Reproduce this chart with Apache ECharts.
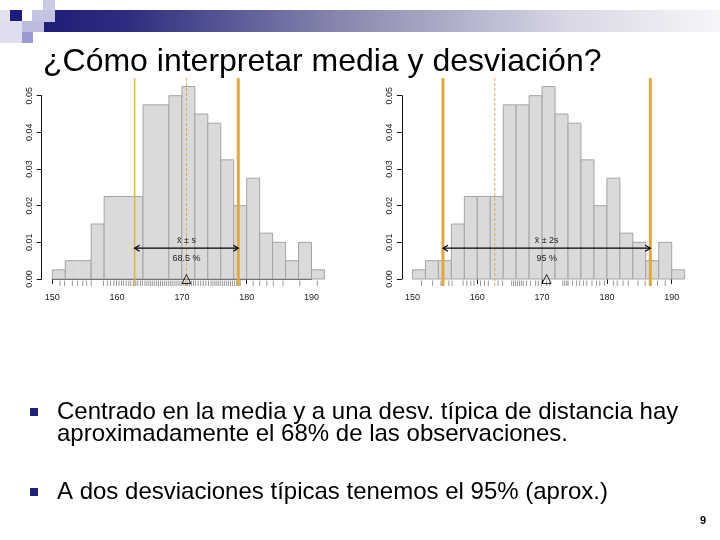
<!DOCTYPE html>
<html>
<head>
<meta charset="utf-8">
<script src="https://cdn.jsdelivr.net/npm/echarts@6/dist/echarts.min.js"></script>
<style>html,body{margin:0;padding:0;background:#fff}#c{width:720px;height:540px}</style>
</head>
<body>
<div id="c"></div>
<script>
// ---------- data ----------
const binStarts = [150,152,154,156,158,160,162,164,166,168,170,172,174,176,178,180,182,184,186,188,190];
const binWidth = 2;
const densityLeft  = [0.0025,0.005,0.005,0.015,0.0225,0.0225,0.0225,0.0475,0.0475,0.05,0.0525,0.045,0.0425,0.0325,0.02,0.0275,0.0125,0.01,0.005,0.01,0.0025];
const densityRight = [0.0025,0.005,0.005,0.015,0.0225,0.0225,0.0225,0.0475,0.0475,0.05,0.0525,0.045,0.0425,0.0325,0.02,0.0275,0.0125,0.01,0.005,0.01,0.0025];
const rugLeft = [151.2,151.9,153.1,153.9,154.7,155.3,156.0,157.9,158.5,159.0,159.5,159.9,160.3,160.7,161.0,161.4,161.8,162.1,162.5,162.9,163.2,163.6,163.9,164.3,164.6,164.9,165.2,165.5,165.8,166.1,166.4,166.7,167.0,167.3,167.6,167.9,168.2,168.5,168.8,169.1,169.4,169.7,170.0,170.3,170.6,170.9,171.2,171.5,171.8,172.1,172.5,172.9,173.3,173.7,174.1,174.5,174.8,175.1,175.4,175.7,176.0,176.3,176.6,176.9,177.2,177.5,177.8,178.1,178.4,178.7,179.0,181.0,182.0,183.1,184.1,185.6,188.2,190.9];
const rugRight = [151.4,153.1,154.4,155.6,156.1,157.8,158.4,159.0,159.5,160.5,161.1,161.7,163.2,163.9,165.3,165.6,165.9,166.2,166.5,166.8,167.1,167.6,168.2,169.0,169.4,169.9,170.7,171.2,173.2,173.5,173.8,174.0,174.7,175.3,175.8,176.4,176.9,177.7,178.4,178.9,179.6,181.0,181.6,182.5,183.3,184.8,185.9,187.8,189.0];
const xTickLabels = [150,160,170,180,190];
const xTicksLeftShown = [150,180];
const xTicksRightShown = [160,170,180,190];
const meanValue = 170.7;
const sdValue = 8.0;
const arrowHeight = 0.0084;
const leftLabels = ['x\u0304 \u00b1 s', '68.5 %'];
const rightLabels = ['x\u0304 \u00b1 2s', '95 %'];
const titleText = '¿Cómo interpretar media y desviación?';
const bullet1 = ['Centrado en la media y a una desv. típica de distancia hay', 'aproximadamente el 68% de las observaciones.'];
const bullet2 = ['A dos desviaciones típicas tenemos el 95% (aprox.)'];
const pageNumber = '9';

// ---------- layout ----------
const lineTop = 0.0548, lineBottom = -0.0019;
const orange = '#E4A838';
const font = 'Liberation Sans, Arial, sans-serif';

const chart = echarts.init(document.getElementById('c'), null, {renderer: 'canvas'});

function xAxisCfg(gi, ticks, showLine) {
  return {
    type: 'value', gridIndex: gi, min: 150, max: 190, interval: 10, offset: 6.5,
    axisLine: {show: showLine, lineStyle: {color: '#444', width: 1}},
    axisTick: {show: true, length: 5, lineStyle: {color: '#222'}, customValues: ticks},
    axisLabel: {fontSize: 9, color: '#222', margin: 8, fontFamily: font, customValues: xTickLabels},
    splitLine: {show: false}
  };
}
function yAxisCfg(gi) {
  return {
    type: 'value', gridIndex: gi, min: 0, max: 0.05, interval: 0.01, offset: 10.6,
    axisLine: {show: true, lineStyle: {color: '#111', width: 1}},
    axisTick: {show: true, length: 5, lineStyle: {color: '#111'}},
    axisLabel: {rotate: 90, fontSize: 9, color: '#222', margin: 8, fontFamily: font,
      formatter: v => v.toFixed(2)},
    splitLine: {show: false}
  };
}

function histSeries(gi, dens, mergeEqual) {
  return {
    type: 'custom', xAxisIndex: gi, yAxisIndex: gi, clip: false, z: 2,
    data: binStarts.map((s, i) => [s, s + binWidth, dens[i]]),
    encode: {x: [0, 1], y: 2},
    renderItem: (params, api) => {
      const i = params.dataIndexInside, n = params.dataInsideLength;
      const v = api.value(2);
      const prev = i > 0 ? api.value(2, i - 1) : null;
      const next = i < n - 1 ? api.value(2, i + 1) : null;
      const p0 = api.coord([api.value(0), v]);
      const p1 = api.coord([api.value(1), 0]);
      const st = {stroke: '#a4a4a4', lineWidth: 1};
      const ch = [
        {type: 'rect', shape: {x: p0[0], y: p0[1], width: p1[0] - p0[0], height: p1[1] - p0[1]}, style: {fill: '#dadada'}},
        {type: 'line', shape: {x1: p0[0], y1: p0[1], x2: p1[0], y2: p0[1]}, style: st},
        {type: 'line', shape: {x1: p0[0], y1: p1[1], x2: p1[0], y2: p1[1]}, style: st}
      ];
      if (!mergeEqual || prev !== v) ch.push({type: 'line', shape: {x1: p0[0], y1: p0[1], x2: p0[0], y2: p1[1]}, style: st});
      if (!mergeEqual || next !== v) ch.push({type: 'line', shape: {x1: p1[0], y1: p0[1], x2: p1[0], y2: p1[1]}, style: st});
      return {type: 'group', children: ch};
    }
  };
}
function rugSeries(gi, vals) {
  return {
    type: 'custom', xAxisIndex: gi, yAxisIndex: gi, clip: false, z: 3,
    data: vals.map(v => [v, 0]),
    renderItem: (params, api) => {
      const p = api.coord([api.value(0), 0]);
      return {type: 'line', shape: {x1: p[0], y1: p[1] + 1.5, x2: p[0], y2: p[1] + 7},
        style: {stroke: '#9a9a9a', lineWidth: 1}};
    }
  };
}
function vline(gi, xv, width, dashed, color) {
  return {
    type: 'line', xAxisIndex: gi, yAxisIndex: gi, clip: false, symbol: 'none', z: 4,
    data: [[xv, lineBottom], [xv, lineTop]],
    lineStyle: {color: color || orange, width: width, type: dashed ? [3, 2] : 'solid'},
    silent: true
  };
}
function arrowSeries(gi, lo, hi, labels) {
  return {
    type: 'custom', xAxisIndex: gi, yAxisIndex: gi, clip: false, z: 5,
    data: [[lo, hi, arrowHeight]],
    renderItem: (params, api) => {
      const a = api.coord([api.value(0), api.value(2)]);
      const b = api.coord([api.value(1), api.value(2)]);
      const h = 5, w = 3, st = {stroke: '#000', lineWidth: 1.2, fill: null};
      const mx = (a[0] + b[0]) / 2;
      return {type: 'group', children: [
        {type: 'line', shape: {x1: a[0], y1: a[1], x2: b[0], y2: b[1]}, style: st},
        {type: 'polyline', shape: {points: [[a[0] + h, a[1] - w], [a[0], a[1]], [a[0] + h, a[1] + w]]}, style: st},
        {type: 'polyline', shape: {points: [[b[0] - h, b[1] - w], [b[0], b[1]], [b[0] - h, b[1] + w]]}, style: st},
        {type: 'text', x: mx, y: a[1] - 8, style: {text: labels[0], align: 'center', verticalAlign: 'middle', fontSize: 9, fontFamily: font, fill: '#222'}},
        {type: 'text', x: mx, y: a[1] + 10, style: {text: labels[1], align: 'center', verticalAlign: 'middle', fontSize: 9, fontFamily: font, fill: '#222'}}
      ]};
    }
  };
}
function meanMarker(gi) {
  return {
    type: 'scatter', xAxisIndex: gi, yAxisIndex: gi, clip: false, z: 6,
    data: [[meanValue, 0]], symbol: 'triangle', symbolSize: 9,
    itemStyle: {color: 'rgba(0,0,0,0)', borderColor: '#000', borderWidth: 1}
  };
}

const option = {
  animation: false,
  backgroundColor: '#fff',
  grid: [
    {left: 52.3, top: 95.7, width: 259.2, height: 183.3},
    {left: 412.5, top: 95.7, width: 259.2, height: 183.3}
  ],
  xAxis: [xAxisCfg(0, xTicksLeftShown, true), xAxisCfg(1, xTicksRightShown, false)],
  yAxis: [yAxisCfg(0), yAxisCfg(1)],
  series: [
    histSeries(0, densityLeft, true),
    rugSeries(0, rugLeft),
    vline(0, meanValue - sdValue, 1.5, false, '#E2B04C'),
    vline(0, meanValue + sdValue, 3, false),
    vline(0, meanValue, 1, true, '#E0A640'),
    arrowSeries(0, meanValue - sdValue, meanValue + sdValue, leftLabels),
    meanMarker(0),
    histSeries(1, densityRight, false),
    rugSeries(1, rugRight),
    vline(1, meanValue - 2 * sdValue, 3, false),
    vline(1, meanValue + 2 * sdValue, 3, false),
    vline(1, meanValue - sdValue, 1, true, '#E0A640'),
    arrowSeries(1, meanValue - 2 * sdValue, meanValue + 2 * sdValue, rightLabels),
    meanMarker(1)
  ],
  graphic: [
    {type: 'rect', shape: {x: 43, y: 10, width: 677, height: 22}, silent: true,
      style: {fill: new echarts.graphic.LinearGradient(0, 0, 1, 0, [
        {offset: 0, color: '#1e1e78'}, {offset: 0.12, color: '#2c2c80'},
        {offset: 0.45, color: '#8a8ab0'}, {offset: 0.78, color: '#d8d8e6'}, {offset: 1, color: '#f6f6f9'}])}},
    {type: 'rect', shape: {x: 43, y: 0, width: 12, height: 10}, style: {fill: '#cacae4'}},
    {type: 'rect', shape: {x: 0, y: 10, width: 10, height: 11}, style: {fill: '#e2e2ef'}},
    {type: 'rect', shape: {x: 10, y: 10, width: 12, height: 11}, style: {fill: '#1c1c80'}},
    {type: 'rect', shape: {x: 32, y: 10, width: 23, height: 12}, style: {fill: '#c4c4e2'}},
    {type: 'rect', shape: {x: 0, y: 21, width: 22, height: 22}, style: {fill: '#dedeee'}},
    {type: 'rect', shape: {x: 22, y: 21, width: 22, height: 11}, style: {fill: '#bcbcde'}},
    {type: 'rect', shape: {x: 22, y: 32, width: 11, height: 11}, style: {fill: '#9a9ad0'}},
    {type: 'text', x: 43, y: 62, style: {text: titleText, fontSize: 32, fontFamily: font, fill: '#000', verticalAlign: 'middle'}},
    {type: 'rect', shape: {x: 30, y: 408, width: 8, height: 8}, style: {fill: '#1f1f7c'}},
    {type: 'text', x: 57, y: 412, style: {text: bullet1[0], fontSize: 24, fontFamily: font, fill: '#000', verticalAlign: 'middle'}},
    {type: 'text', x: 57, y: 434, style: {text: bullet1[1], fontSize: 24, fontFamily: font, fill: '#000', verticalAlign: 'middle'}},
    {type: 'rect', shape: {x: 30, y: 488, width: 8, height: 8}, style: {fill: '#1f1f7c'}},
    {type: 'text', x: 57, y: 492, style: {text: bullet2[0], fontSize: 24, fontFamily: font, fill: '#000', verticalAlign: 'middle'}},
    {type: 'text', x: 703, y: 521, style: {text: pageNumber, fontSize: 11, fontWeight: 'bold', fontFamily: font, fill: '#000', verticalAlign: 'middle', align: 'center'}}
  ]
};
chart.setOption(option);
</script>
</body>
</html>
